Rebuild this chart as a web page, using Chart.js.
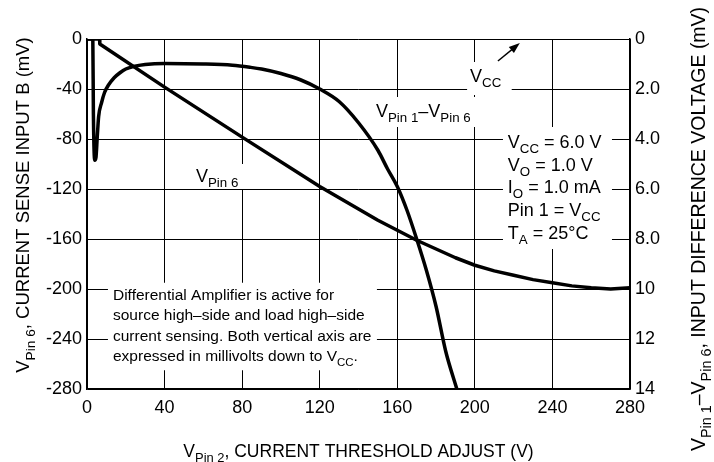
<!DOCTYPE html>
<html>
<head>
<meta charset="utf-8">
<script src="https://cdn.jsdelivr.net/npm/chart.js@4.4.1/dist/chart.umd.min.js"></script>
<style>
  body { margin: 0; background: #fff; }
  #wrap { width: 714px; height: 462px; position: relative; }
</style>
</head>
<body>
<div id="wrap"><canvas id="chart"></canvas></div>
<script>
// V Pin 6 (left axis, mV)
var pin6X = [0, 6.5, 6.6, 40, 80, 120, 130, 140, 150, 160, 170, 180, 190, 200, 210, 220, 230, 240, 250, 260, 270, 280];
var pin6Y = [0, 0, -4, -38.5, -78.5, -118, -127, -136, -145, -153, -161, -168, -175, -181, -185.5, -189, -192.5, -195, -197.5, -199, -200, -199];

// V Pin 1 - V Pin 6 (right axis, mV)
var diffX = [0, 3, 3.3, 4, 4.6, 5.3, 6, 7.5, 9, 11, 14, 17, 20, 24, 30, 40, 60, 75, 84, 90, 100, 110, 120, 130, 140, 150, 155, 160, 165, 170, 175, 180, 185, 190.7];
var diffY = [0, 0, 3.0, 4.85, 4.75, 3.9, 3.1, 2.55, 2.15, 1.85, 1.55, 1.35, 1.2, 1.1, 1.02, 0.98, 1.0, 1.05, 1.13, 1.2, 1.38, 1.63, 2.0, 2.5, 3.35, 4.45, 5.2, 5.9, 6.85, 8.0, 9.25, 10.7, 12.5, 14.0];

var xTicks = [0, 40, 80, 120, 160, 200, 240, 280];
var leftTicks = [0, -40, -80, -120, -160, -200, -240, -280];
var rightTicks = ['0', '2.0', '4.0', '6.0', '8.0', '10', '12', '14'];

var NARROW = "'Liberation Sans Narrow', 'Liberation Sans', Arial, sans-serif";

function pts(xs, ys) {
  return xs.map(function (x, i) { return { x: x, y: ys[i] }; });
}

// draws text made of [string, isSub] pieces
function rich(ctx, parts, x, y, size) {
  var cx = x;
  parts.forEach(function (p) {
    var s = p[1] ? size * 0.74 : size;
    ctx.font = s + 'px ' + NARROW;
    ctx.fillText(p[0], cx, p[1] ? y + size * 0.3 : y);
    cx += ctx.measureText(p[0]).width;
  });
}
function richWidth(ctx, parts, size) {
  var w = 0;
  parts.forEach(function (p) {
    ctx.font = (p[1] ? size * 0.74 : size) + 'px ' + NARROW;
    w += ctx.measureText(p[0]).width;
  });
  return w;
}

var boxes = [
  [196, 219, -18.4, -44.8],
  [147, 201.6, -46.4, -70.4],
  [214.5, 270.7, -70.4, -168],
  [10.8, 149.5, -195, -265],
  [54, 88, -100, -120]
];

var labels = [
  { x: 197.5, y: -34.4, size: 18, parts: [['V'], ['CC', 1]] },
  { x: 149, y: -62.4, size: 18, parts: [['V'], ['Pin 1', 1], ['\u2013V'], ['Pin 6', 1]] },
  { x: 56.2, y: -114.4, size: 18, parts: [['V'], ['Pin 6', 1]] },
  { x: 217, y: -87.2, size: 18, parts: [['V'], ['CC', 1], [' = 6.0 V']] },
  { x: 217, y: -105.2, size: 18, parts: [['V'], ['O', 1], [' = 1.0 V']] },
  { x: 217, y: -123.2, size: 18, parts: [['I'], ['O', 1], [' = 1.0 mA']] },
  { x: 217, y: -141.6, size: 18, parts: [['Pin 1 = V'], ['CC', 1]] },
  { x: 217, y: -160, size: 18, parts: [['T'], ['A', 1], [' = 25\u00B0C']] },
  { x: 13.4, y: -208.8, size: 15.5, parts: [['Differential Amplifier is active for']] },
  { x: 13.4, y: -225, size: 15.5, parts: [['source high\u2013side and load high\u2013side']] },
  { x: 13.4, y: -241.3, size: 15.5, parts: [['current sensing. Both vertical axis are']] },
  { x: 13.4, y: -257.6, size: 15.5, parts: [['expressed in millivolts down to V'], ['CC', 1], ['.']] }
];

var notes = {
  id: 'notes',
  beforeDatasetsDraw: function (chart) {
    var ctx = chart.ctx, sx = chart.scales.x, sy = chart.scales.y;
    ctx.save();
    ctx.fillStyle = '#fff';
    boxes.forEach(function (b) {
      var x0 = sx.getPixelForValue(b[0]), x1 = sx.getPixelForValue(b[1]);
      var y0 = sy.getPixelForValue(b[2]), y1 = sy.getPixelForValue(b[3]);
      ctx.fillRect(x0, y0, x1 - x0, y1 - y0);
    });
    ctx.restore();
  },
  afterDraw: function (chart) {
    var ctx = chart.ctx, sx = chart.scales.x, sy = chart.scales.y;
    ctx.save();
    ctx.fillStyle = '#000';
    ctx.textBaseline = 'alphabetic';
    ctx.textAlign = 'left';
    labels.forEach(function (l) {
      rich(ctx, l.parts, sx.getPixelForValue(l.x), sy.getPixelForValue(l.y), l.size);
    });

    // arrow towards Vcc
    var ax = sx.getPixelForValue(211.9), ay = sy.getPixelForValue(-17.6);
    var tx = sx.getPixelForValue(223.2), ty = sy.getPixelForValue(-3.2);
    var ang = Math.atan2(ty - ay, tx - ax);
    ctx.strokeStyle = '#000';
    ctx.lineWidth = 1.5;
    ctx.beginPath(); ctx.moveTo(ax, ay); ctx.lineTo(tx - 6 * Math.cos(ang), ty - 6 * Math.sin(ang)); ctx.stroke();
    ctx.beginPath();
    ctx.moveTo(tx, ty);
    ctx.lineTo(tx - 11 * Math.cos(ang) + 4 * Math.sin(ang), ty - 11 * Math.sin(ang) - 4 * Math.cos(ang));
    ctx.lineTo(tx - 11 * Math.cos(ang) - 4 * Math.sin(ang), ty - 11 * Math.sin(ang) + 4 * Math.cos(ang));
    ctx.closePath(); ctx.fill();

    // axis titles
    var xt = [['V'], ['Pin 2', 1], [', CURRENT THRESHOLD ADJUST (V)']];
    var w = richWidth(ctx, xt, 17.5);
    rich(ctx, xt, (chart.chartArea.left + chart.chartArea.right) / 2 - w / 2, 457, 17.5);

    var lt = [['V'], ['Pin 6', 1], [', CURRENT SENSE INPUT B (mV)']];
    w = richWidth(ctx, lt, 18.5);
    ctx.save();
    ctx.translate(29, 205);
    ctx.rotate(-Math.PI / 2);
    rich(ctx, lt, -w / 2, 0, 18.5);
    ctx.restore();

    var rt = [['V'], ['Pin 1', 1], ['\u2013V'], ['Pin 6', 1], [', INPUT DIFFERENCE VOLTAGE (mV)']];
    w = richWidth(ctx, rt, 19.5);
    ctx.save();
    ctx.translate(705, 229);
    ctx.rotate(-Math.PI / 2);
    rich(ctx, rt, -w / 2, 0, 19.5);
    ctx.restore();
    ctx.restore();
  }
};

var tickFont = { family: "'Liberation Sans', Arial, sans-serif", size: 18 };

var chart = new Chart(document.getElementById('chart'), {
  type: 'line',
  data: {
    datasets: [{
      label: 'V Pin 6',
      data: pts(pin6X, pin6Y),
      yAxisID: 'y',
      borderColor: '#000',
      borderWidth: 3.5,
      pointRadius: 0,
      fill: false,
      tension: 0,
      borderJoinStyle: 'round'
    }, {
      label: 'V Pin 1 - V Pin 6',
      data: pts(diffX, diffY),
      yAxisID: 'y2',
      borderColor: '#000',
      borderWidth: 3.5,
      pointRadius: 0,
      fill: false,
      cubicInterpolationMode: 'monotone'
    }]
  },
  options: {
    responsive: true,
    maintainAspectRatio: false,
    animation: false,
    events: [],
    layout: { padding: { top: 39, left: 0, right: 0, bottom: 0 } },
    plugins: { legend: { display: false }, tooltip: { enabled: false } },
    scales: {
      x: {
        type: 'linear', min: 0, max: 280,
        afterFit: function (s) { s.height = 73; },
        afterBuildTicks: function (s) { s.ticks = xTicks.map(function (v) { return { value: v }; }); },
        grid: { color: '#000', lineWidth: 1, drawTicks: false },
        border: { color: '#000', width: 1.5 },
        ticks: { color: '#000', font: tickFont, padding: 8, maxRotation: 0 }
      },
      y: {
        type: 'linear', min: -280, max: 0, position: 'left',
        afterFit: function (s) { s.width = 87; },
        afterBuildTicks: function (s) { s.ticks = leftTicks.map(function (v) { return { value: v }; }); },
        grid: { color: '#000', lineWidth: 1, drawTicks: false },
        border: { color: '#000', width: 1.5 },
        ticks: { color: '#000', font: tickFont, padding: 5 }
      },
      y2: {
        type: 'linear', min: 0, max: 14, reverse: true, position: 'right',
        afterFit: function (s) { s.width = 84; },
        afterBuildTicks: function (s) { s.ticks = rightTicks.map(function (t, i) { return { value: i * 2 }; }); },
        grid: { display: false, drawTicks: false },
        border: { color: '#000', width: 1.5 },
        ticks: {
          color: '#000', font: tickFont, padding: 5,
          callback: function (v, i) { return rightTicks[i]; }
        }
      }
    }
  },
  plugins: [notes]
});
</script>
</body>
</html>
